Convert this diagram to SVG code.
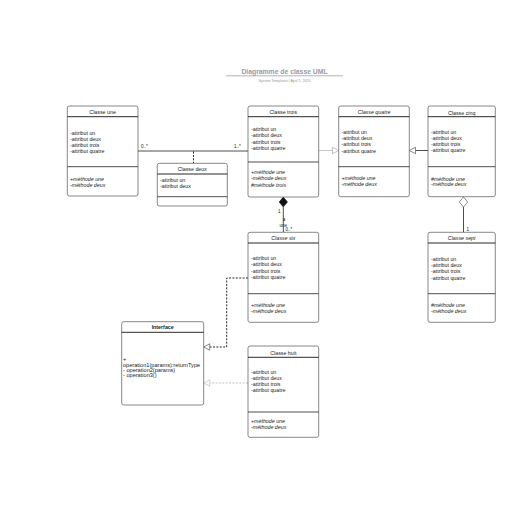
<svg xmlns="http://www.w3.org/2000/svg" width="516" height="516" viewBox="0 0 516 516">
<style>
text{font-family:"Liberation Sans",Arial,sans-serif;fill:#222;font-size:5.3px}
.t{text-anchor:middle}
.i{font-style:italic}
.box{fill:#fff;stroke:#555;stroke-width:0.7}
.hd{stroke:#111;stroke-width:0.9}
.dv{stroke:#222;stroke-width:0.8}
.ln{fill:none;stroke:#222;stroke-width:0.8}
.lg{fill:none;stroke:#bbb;stroke-width:0.8}
.dash{fill:none;stroke:#111;stroke-width:0.9;stroke-dasharray:2,1.4}
.dashg{fill:none;stroke:#aaa;stroke-width:0.7;stroke-dasharray:2,1.4}
.lbl{font-size:4.6px}
.op{font-size:5.6px}
</style>
<rect width="516" height="516" fill="#fff"/>
<g id="title">
<text x="284.5" y="74" class="t" style="font-size:6.8px;font-weight:bold;fill:#959aa9">Diagramme de classe UML</text>
<line x1="226" y1="75.8" x2="343" y2="75.8" stroke="#9aa0ae" stroke-width="0.8"/>
<text x="284.5" y="82" class="t" style="font-size:3.6px;fill:#999">System Templates  |  April 5, 2020</text>
</g>
<g id="connectors">
<line class="ln" x1="138" y1="151" x2="248" y2="151"/>
<text x="141" y="148" class="lbl">0..*</text>
<text x="234" y="148" class="lbl">1..*</text>
<line class="dash" x1="193.5" y1="151.5" x2="193.5" y2="163.3"/>
<line class="lg" x1="318.7" y1="150.5" x2="333" y2="150.5"/>
<path d="M338.7,150.5 L332.5,147.3 L332.5,153.7 Z" fill="#fff" stroke="#aaa" stroke-width="0.7"/>
<line class="ln" x1="428" y1="150.5" x2="415.5" y2="150.5"/>
<path d="M409.3,150.5 L415.5,147.3 L415.5,153.7 Z" fill="#fff" stroke="#555" stroke-width="0.7"/>
<line class="ln" x1="283.3" y1="207" x2="283.3" y2="232.3"/>
<path d="M283.3,197 L287.5,202 L283.3,207 L279.1,202 Z" fill="#111" stroke="#111" stroke-width="0.5"/>
<text x="278" y="212.5" class="lbl">1</text>
<text x="284" y="221" class="lbl t">a</text>
<text x="283.3" y="227" class="lbl t">une</text>
<text x="285.5" y="231" class="lbl">0..*</text>
<line class="ln" x1="463.5" y1="207" x2="463.5" y2="232.3"/>
<path d="M463.5,197 L467.7,202 L463.5,207 L459.3,202 Z" fill="#fff" stroke="#444" stroke-width="0.6"/>
<text x="466.5" y="230.5" class="lbl">1</text>
<path class="dash" d="M248,278 H226.7 V347 H209"/>
<path d="M203.7,347 L209.7,343.8 L209.7,350.2 Z" fill="#fff" stroke="#555" stroke-width="0.7"/>
<path class="dashg" d="M248,383 H209.7"/>
<path d="M203.7,383 L209.7,379.8 L209.7,386.2 Z" fill="#fff" stroke="#bbb" stroke-width="0.7"/>
</g>
<g id="classe-une">
<rect class="box" x="67.3" y="106" width="70.7" height="90" rx="2"/>
<line class="hd" x1="67.3" y1="116.7" x2="138" y2="116.7"/>
<line class="dv" x1="67.3" y1="166.7" x2="138" y2="166.7"/>
<text x="102.6" y="113.8" class="t">Classe une</text>
<text x="70" y="134.8">-attribut un</text>
<text x="70" y="140.8">-attribut deux</text>
<text x="70" y="146.8">-attribut trois</text>
<text x="70" y="152.8">-attribut quatre</text>
<text x="70" y="180.5" class="i">+méthode une</text>
<text x="70" y="186.5" class="i">-méthode deux</text>
</g>
<g id="classe-deux">
<rect class="box" x="157.3" y="163.3" width="70" height="42.7" rx="2"/>
<line class="hd" x1="157.3" y1="174" x2="227.3" y2="174"/>
<line class="dv" x1="157.3" y1="196.7" x2="227.3" y2="196.7"/>
<text x="192.3" y="170.8" class="t">Classe deux</text>
<text x="160" y="181.8">-attribut un</text>
<text x="160" y="187.8">-attribut deux</text>
</g>
<g id="classe-trois">
<rect class="box" x="248" y="106" width="70.7" height="91" rx="2"/>
<line class="hd" x1="248" y1="116.7" x2="318.7" y2="116.7"/>
<line class="dv" x1="248" y1="162" x2="318.7" y2="162"/>
<text x="283.3" y="114" class="t">Classe trois</text>
<text x="251" y="131">-attribut un</text>
<text x="251" y="137">-attribut deux</text>
<text x="251" y="143.7">-attribut trois</text>
<text x="251" y="150.4">-attribut quatre</text>
<text x="251" y="174.4" class="i">+méthode une</text>
<text x="251" y="180.4" class="i">-méthode deux</text>
<text x="251" y="187" class="i">#méthode trois</text>
</g>
<g id="classe-quatre">
<rect class="box" x="338.7" y="106" width="70.6" height="90.7" rx="2"/>
<line class="hd" x1="338.7" y1="116.7" x2="409.3" y2="116.7"/>
<line class="dv" x1="338.7" y1="166.7" x2="409.3" y2="166.7"/>
<text x="374" y="114" class="t i">Classe quatre</text>
<text x="341.5" y="134.4">-attribut un</text>
<text x="341.5" y="140.4">-attribut deux</text>
<text x="341.5" y="146.4">-attribut trois</text>
<text x="341.5" y="152.9">-attribut quatre</text>
<text x="341.5" y="180.4" class="i">+méthode une</text>
<text x="341.5" y="186.4" class="i">-méthode deux</text>
</g>
<g id="classe-cinq">
<rect class="box" x="428" y="106" width="67.3" height="90.7" rx="2"/>
<line class="hd" x1="428" y1="116.7" x2="495.3" y2="116.7"/>
<line class="dv" x1="428" y1="166.7" x2="495.3" y2="166.7"/>
<text x="461.7" y="114.5" class="t">Classe cinq</text>
<text x="431" y="134.4">-attribut un</text>
<text x="431" y="140">-attribut deux</text>
<text x="431" y="146.4">-attribut trois</text>
<text x="431" y="152.4">-attribut quatre</text>
<text x="431" y="181" class="i">#méthode une</text>
<text x="431" y="186.4" class="i">-méthode deux</text>
</g>
<g id="classe-six">
<rect class="box" x="248" y="232.3" width="70.7" height="90" rx="2"/>
<line class="hd" x1="248" y1="243" x2="318.7" y2="243"/>
<line class="dv" x1="248" y1="293.7" x2="318.7" y2="293.7"/>
<text x="283.3" y="239.5" class="t i">Classe six</text>
<text x="251" y="259.5">-attribut un</text>
<text x="251" y="266">-attribut deux</text>
<text x="251" y="272.5">-attribut trois</text>
<text x="251" y="279">-attribut quatre</text>
<text x="251" y="306.7" class="i">+méthode une</text>
<text x="251" y="313.2" class="i">-méthode deux</text>
</g>
<g id="classe-sept">
<rect class="box" x="428" y="232.3" width="67.3" height="90" rx="2"/>
<line class="hd" x1="428" y1="243" x2="495.3" y2="243"/>
<line class="dv" x1="428" y1="293.7" x2="495.3" y2="293.7"/>
<text x="461.7" y="239.5" class="t i">Classe sept</text>
<text x="431" y="260.7">-attribut un</text>
<text x="431" y="266.9">-attribut deux</text>
<text x="431" y="273.3">-attribut trois</text>
<text x="431" y="279.8">-attribut quatre</text>
<text x="431" y="306.7" class="i">#méthode une</text>
<text x="431" y="313.2" class="i">-méthode deux</text>
</g>
<g id="interface">
<rect class="box" x="121.7" y="321.7" width="82" height="83.3" rx="2"/>
<line class="hd" x1="121.7" y1="332.3" x2="203.7" y2="332.3"/>
<text x="162.7" y="328.5" class="t" style="font-weight:bold">Interface</text>
<text x="123" y="361" class="op">+</text>
<text x="123" y="366.6" class="op">operation1(params):returnType</text>
<text x="123" y="371.9" class="op">- operation2(params)</text>
<text x="123" y="377.2" class="op">- operation3()</text>
</g>
<g id="classe-huit">
<rect class="box" x="248" y="346" width="70.7" height="91.3" rx="2"/>
<line class="hd" x1="248" y1="357.3" x2="318.7" y2="357.3"/>
<line class="dv" x1="248" y1="412" x2="318.7" y2="412"/>
<text x="283.3" y="355" class="t">Classe huit</text>
<text x="251" y="374">-attribut un</text>
<text x="251" y="379.8">-attribut deux</text>
<text x="251" y="386">-attribut trois</text>
<text x="251" y="392.4">-attribut quatre</text>
<text x="251" y="422.5" class="i">+méthode une</text>
<text x="251" y="428.7" class="i">-méthode deux</text>
</g>
</svg>
